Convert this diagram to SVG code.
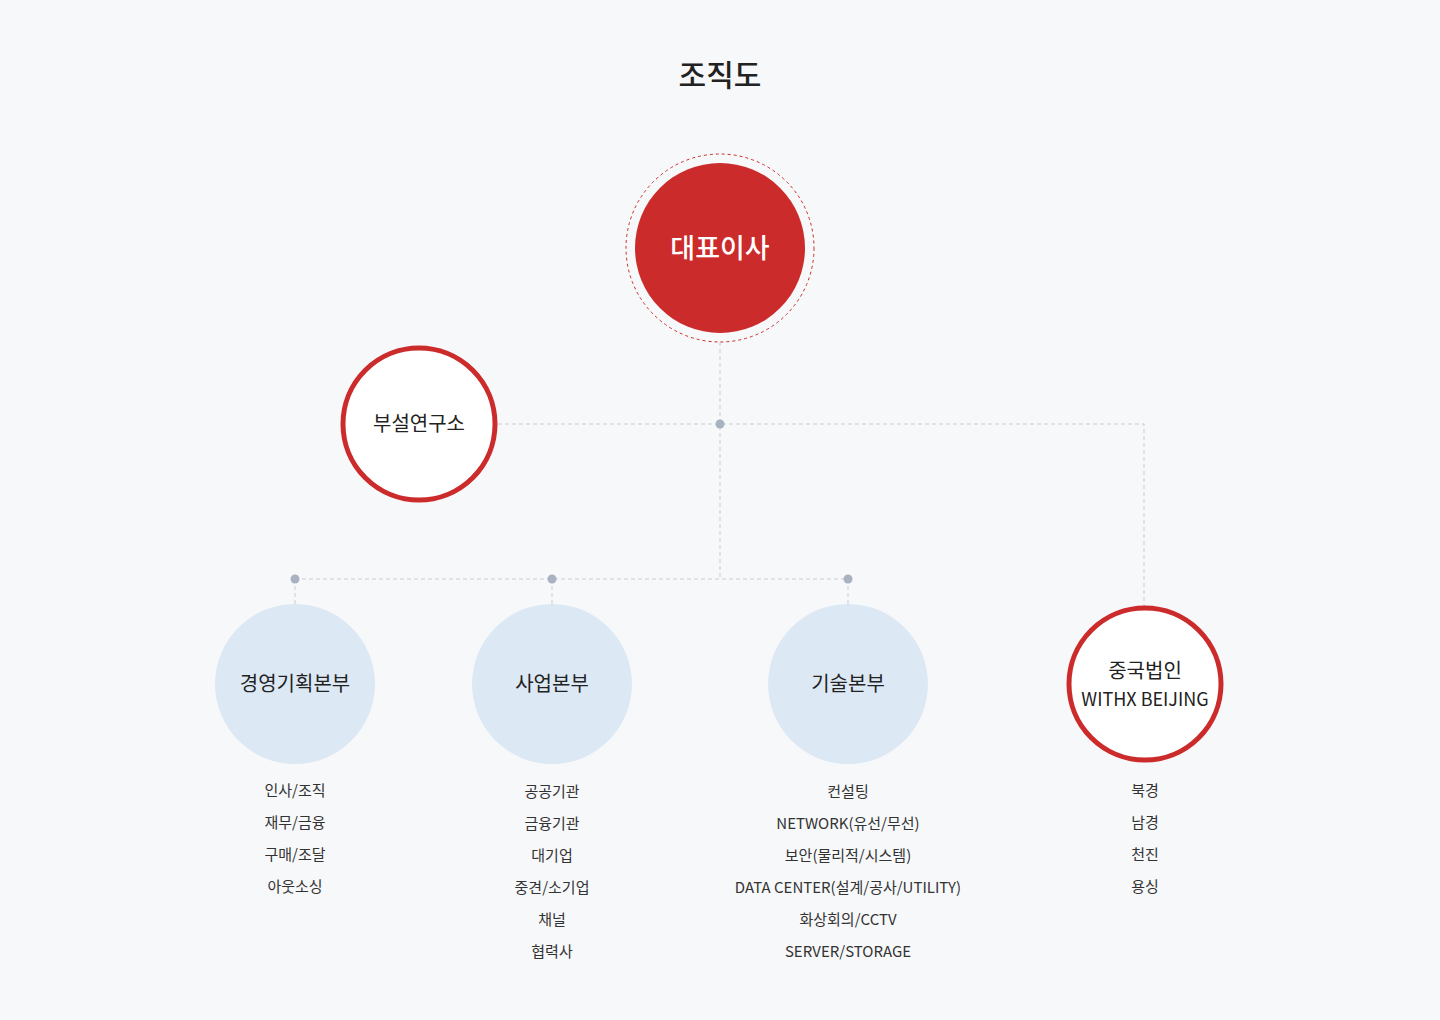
<svg xmlns="http://www.w3.org/2000/svg" width="1440" height="1020" viewBox="0 0 1440 1020">
<style>
text{font-family:"Noto Sans CJK KR","Noto Sans",sans-serif;text-anchor:middle;fill:#222}
.ln{stroke:#c8ccd2;stroke-width:1;stroke-dasharray:4 3;fill:none}
.dot{fill:#a9b2c0}
.sub{font-size:15px;fill:#333}
.nm{font-size:20px}
.blue{fill:#dde8f5}
.red{fill:#fff;stroke:#cc2b2b;stroke-width:5}
</style>
<rect width="1440" height="1020" fill="#f7f8fa"/>
<text x="720" y="86" font-size="30" font-weight="500">조직도</text>
<g id="connectors">
<path class="ln" d="M720 342V579M498 424H1144V606M295 579H848M295 579V604M552 579V604M848 579V604"/>
<circle class="dot" cx="720" cy="424" r="4.5"/>
<circle class="dot" cx="295" cy="579" r="4.5"/>
<circle class="dot" cx="552" cy="579" r="4.5"/>
<circle class="dot" cx="848" cy="579" r="4.5"/>
</g>
<g id="ceo">
<circle cx="720" cy="248" r="94" fill="none" stroke="#cc2b2b" stroke-width="1" stroke-dasharray="3 3"/>
<circle cx="720" cy="248" r="85" fill="#cc2b2b"/>
<text x="720" y="258" font-size="27" font-weight="500" style="fill:#fff">대표이사</text>
</g>
<g id="lab">
<circle class="red" cx="419" cy="424" r="76"/>
<text class="nm" x="419" y="431">부설연구소</text>
</g>
<g id="mgmt">
<circle class="blue" cx="295" cy="684" r="80"/>
<text class="nm" x="295" y="691">경영기획본부</text>
<text class="sub" x="295" y="796">인사/조직</text>
<text class="sub" x="295" y="828">재무/금융</text>
<text class="sub" x="295" y="860">구매/조달</text>
<text class="sub" x="295" y="892">아웃소싱</text>
</g>
<g id="biz">
<circle class="blue" cx="552" cy="684" r="80"/>
<text class="nm" x="552" y="691">사업본부</text>
<text class="sub" x="552" y="797">공공기관</text>
<text class="sub" x="552" y="829">금융기관</text>
<text class="sub" x="552" y="861">대기업</text>
<text class="sub" x="552" y="893">중견/소기업</text>
<text class="sub" x="552" y="925">채널</text>
<text class="sub" x="552" y="957">협력사</text>
</g>
<g id="tech">
<circle class="blue" cx="848" cy="684" r="80"/>
<text class="nm" x="848" y="691">기술본부</text>
<text class="sub" x="848" y="797">컨설팅</text>
<text class="sub" x="848" y="829">NETWORK(유선/무선)</text>
<text class="sub" x="848" y="861">보안(물리적/시스템)</text>
<text class="sub" x="848" y="893">DATA CENTER(설계/공사/UTILITY)</text>
<text class="sub" x="848" y="925">화상회의/CCTV</text>
<text class="sub" x="848" y="957">SERVER/STORAGE</text>
</g>
<g id="china">
<circle class="red" cx="1145" cy="684" r="76"/>
<text class="nm" x="1145" y="678">중국법인</text>
<text x="1145" y="706" font-size="18">WITHX BEIJING</text>
<text class="sub" x="1145" y="796">북경</text>
<text class="sub" x="1145" y="828">남경</text>
<text class="sub" x="1145" y="860">천진</text>
<text class="sub" x="1145" y="892">용싱</text>
</g>
</svg>
